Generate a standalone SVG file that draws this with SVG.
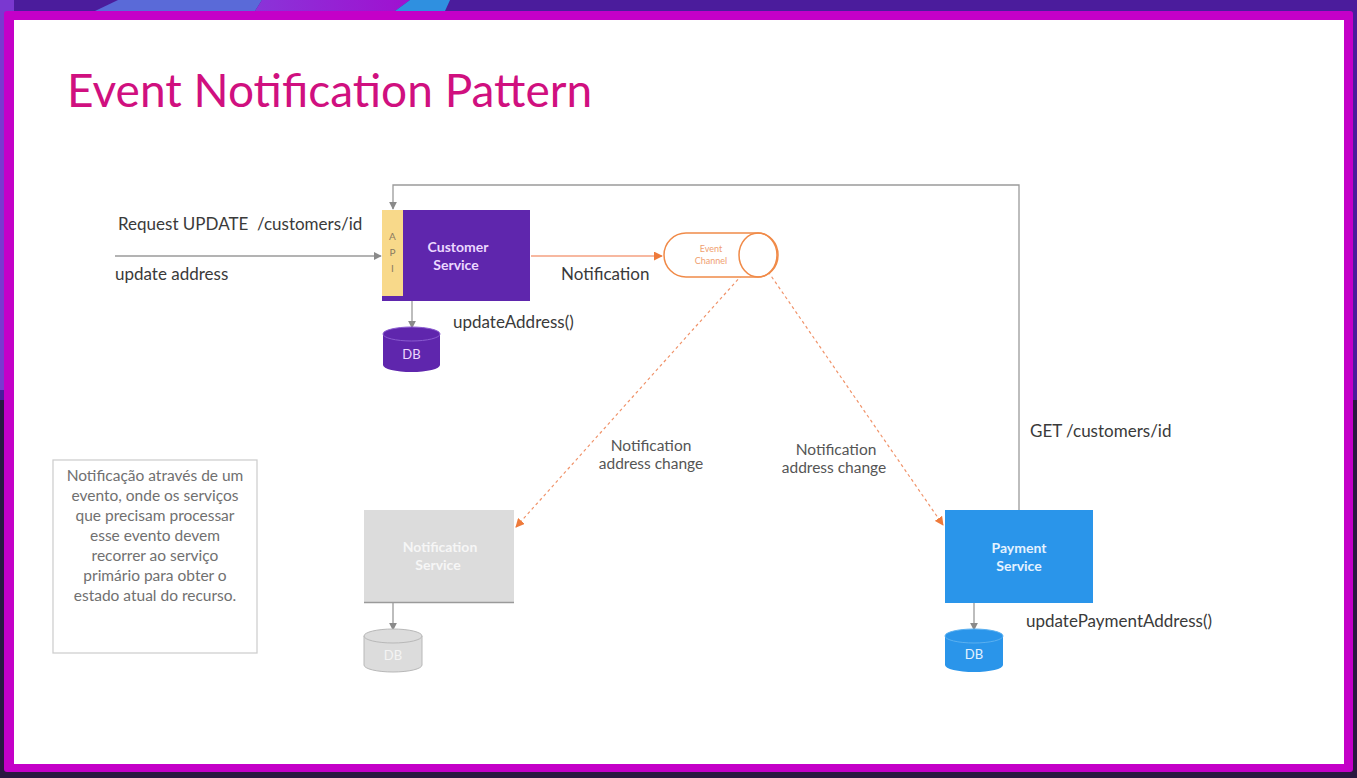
<svg xmlns="http://www.w3.org/2000/svg" width="1357" height="778" viewBox="0 0 1357 778">
  <defs>
    <marker id="arrGray" viewBox="0 0 10 10" refX="9" refY="5" markerWidth="8" markerHeight="8" markerUnits="userSpaceOnUse" orient="auto">
      <path d="M0,0 L10,5 L0,10 z" fill="#8a8a8a"/>
    </marker>
    <marker id="arrOrange" viewBox="0 0 10 10" refX="9" refY="5" markerWidth="9" markerHeight="9" markerUnits="userSpaceOnUse" orient="auto">
      <path d="M0,0 L10,5 L0,10 z" fill="#ee7a3a"/>
    </marker>
    <linearGradient id="blobGrad" x1="0" y1="0" x2="1" y2="0">
      <stop offset="0" stop-color="#8a34d8"/>
      <stop offset="1" stop-color="#a010d0"/>
    </linearGradient>
  </defs>
  <style>
    text { font-family: Lato, "Open Sans", "Liberation Sans", sans-serif; }
    .label { font-size: 17px; fill: #3a3a3a; }
    .conn { fill: none; stroke: #9a9a9a; stroke-width: 1.3; }
    .dash { fill: none; stroke: #f0936a; stroke-width: 1.2; stroke-dasharray: 3 3; }
    .svc { font-size: 14px; font-weight: bold; text-anchor: middle; }
    .db { font-size: 13px; text-anchor: middle; }
    .note { font-size: 15.5px; fill: #707070; text-anchor: middle; }
    .mid { font-size: 15.5px; fill: #555; text-anchor: middle; }
  </style>

  <!-- backdrop and slide frame -->
  <rect x="0" y="0" width="1357" height="778" fill="#2a1840"/>
  <rect x="0" y="0" width="1357" height="400" fill="#4b1c9c"/>
  <rect x="0" y="0" width="14" height="390" fill="#7a38d0"/>
  <polygon points="95,11 118,0 262,0 255,11" fill="#5a6ad8"/>
  <polygon points="255,11 262,0 410,0 395,11" fill="url(#blobGrad)"/>
  <polygon points="395,11 410,0 450,0 445,11" fill="#2f90e0"/>
  <rect x="4" y="11" width="1349" height="761" rx="3" fill="#c400c8"/>
  <rect x="14" y="20" width="1330" height="744" fill="#ffffff"/>

  <text x="67" y="107" font-size="46" fill="#d0107f">Event Notification Pattern</text>

  <!-- connectors -->
  <g id="connectors">
    <polyline class="conn" points="1019,510 1019,185 393,185 393,209" marker-end="url(#arrGray)"/>
    <line class="conn" x1="115" y1="256" x2="381" y2="256" marker-end="url(#arrGray)"/>
    <line class="conn" x1="412" y1="300" x2="412" y2="328" marker-end="url(#arrGray)"/>
    <line class="conn" x1="393" y1="603" x2="393" y2="630" marker-end="url(#arrGray)"/>
    <line class="conn" x1="974" y1="603" x2="974" y2="630" marker-end="url(#arrGray)"/>
    <line x1="531" y1="256" x2="662" y2="256" stroke="#f4a080" stroke-width="1.3" marker-end="url(#arrOrange)"/>
    <polyline class="dash" points="758,257 516,527" marker-end="url(#arrOrange)"/>
    <polyline class="dash" points="758,257 943,525" marker-end="url(#arrOrange)"/>
  </g>

  <!-- text labels -->
  <text class="label" x="118" y="230" xml:space="preserve">Request UPDATE  /customers/id</text>
  <text class="label" x="115" y="280">update address</text>
  <text class="label" x="453" y="328">updateAddress()</text>
  <text class="label" x="561" y="280">Notification</text>
  <text class="label" x="1030" y="437">GET /customers/id</text>
  <text class="label" x="1026" y="627">updatePaymentAddress()</text>
  <text class="mid" x="651" y="451">Notification</text>
  <text class="mid" x="651" y="469">address change</text>
  <text class="mid" x="836" y="455">Notification</text>
  <text class="mid" x="834" y="473">address change</text>

  <!-- customer service with API strip -->
  <g id="customer-service">
    <rect x="382" y="210" width="148" height="91" fill="#5f26ad"/>
    <rect x="382" y="210" width="21" height="86" fill="#f8d98a"/>
    <text x="392.5" y="240" font-size="10" fill="#8a7a60" text-anchor="middle">A</text>
    <text x="392.5" y="256" font-size="10" fill="#8a7a60" text-anchor="middle">P</text>
    <text x="392.5" y="272" font-size="10" fill="#8a7a60" text-anchor="middle">I</text>
    <text class="svc" x="458" y="252" fill="#ecd8ff">Customer</text>
    <text class="svc" x="456" y="270" fill="#ecd8ff">Service</text>
  </g>

  <g id="customer-db">
    <path d="M383,334 v31 a28.5,7 0 0 0 57,0 v-31 z" fill="#5f26ad"/>
    <ellipse cx="411.5" cy="334" rx="28.5" ry="7" fill="#5f26ad" stroke="#8a5ad0" stroke-width="1"/>
    <text class="db" x="411.5" y="359" fill="#ecd8ff">DB</text>
  </g>

  <!-- event channel -->
  <g id="event-channel">
    <path d="M686,233 H758 A20,22 0 0 1 758,277 H686 A22,22 0 0 1 686,233 z" fill="#ffffff" stroke="#f08a48" stroke-width="1.5"/>
    <ellipse cx="758" cy="255" rx="19" ry="22" fill="none" stroke="#f08a48" stroke-width="1.5"/>
    <text x="711" y="252" font-size="9" fill="#f0a070" text-anchor="middle">Event</text>
    <text x="711" y="264" font-size="9" fill="#f0a070" text-anchor="middle">Channel</text>
  </g>

  <!-- notification service -->
  <g id="notification-service">
    <rect x="364" y="510" width="150" height="93" fill="#dcdcdc"/>
    <line x1="364" y1="602.5" x2="514" y2="602.5" stroke="#9a9a9a" stroke-width="1.5"/>
    <text class="svc" x="440" y="552" fill="#f6f6f6">Notification</text>
    <text class="svc" x="438" y="570" fill="#f6f6f6">Service</text>
  </g>
  <g id="notification-db">
    <path d="M364,636 v29 a29,7 0 0 0 58,0 v-29 z" fill="#dcdcdc" stroke="#b8b8b8" stroke-width="1"/>
    <ellipse cx="393" cy="636" rx="29" ry="7" fill="#dcdcdc" stroke="#b8b8b8" stroke-width="1"/>
    <text class="db" x="393" y="660" fill="#f4f4f4">DB</text>
  </g>

  <!-- payment service -->
  <g id="payment-service">
    <rect x="945" y="510" width="148" height="93" fill="#2a95ea"/>
    <text class="svc" x="1019" y="553" fill="#e4f2ff">Payment</text>
    <text class="svc" x="1019" y="571" fill="#e4f2ff">Service</text>
  </g>
  <g id="payment-db">
    <path d="M945,636 v29 a29,7 0 0 0 58,0 v-29 z" fill="#2a95ea"/>
    <ellipse cx="974" cy="636" rx="29" ry="7" fill="#2a95ea" stroke="#5ab0f0" stroke-width="1"/>
    <text class="db" x="974" y="659" fill="#e4f2ff">DB</text>
  </g>

  <!-- explanatory note -->
  <g id="note">
    <rect x="53" y="460" width="204" height="193" fill="#ffffff" stroke="#cfcfcf" stroke-width="1.3"/>
    <text class="note" x="155" y="481">Notificação através de um</text>
    <text class="note" x="155" y="501">evento, onde os serviços</text>
    <text class="note" x="155" y="521">que precisam processar</text>
    <text class="note" x="155" y="541">esse evento devem</text>
    <text class="note" x="155" y="561">recorrer ao serviço</text>
    <text class="note" x="155" y="581">primário para obter o</text>
    <text class="note" x="155" y="601">estado atual do recurso.</text>
  </g>
</svg>
